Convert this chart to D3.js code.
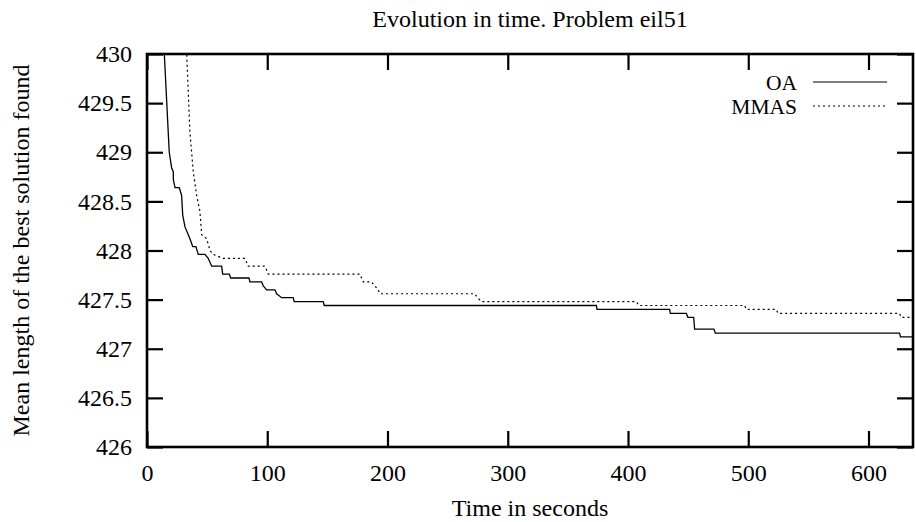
<!DOCTYPE html>
<html>
<head>
<meta charset="utf-8">
<script src="https://cdn.jsdelivr.net/npm/d3@7"></script>
<style>
  body { margin: 0; background: #fff; }
  svg { display: block; }
  text { font-family: "Liberation Serif", "Times New Roman", serif; fill: #000; }
</style>
</head>
<body>
<svg id="chart" width="916" height="522"></svg>
<script>
// ---- data ----
const xTicks = [0, 100, 200, 300, 400, 500, 600];
const yTicks = [426, 426.5, 427, 427.5, 428, 428.5, 429, 429.5, 430];
const seriesNames = ["OA", "MMAS"];

const oaTime = [12.5, 14.4, 18.5, 20.5, 21.9, 21.9, 23.3, 26.8, 28.8, 29.7, 31.6, 35.7, 38.0, 40.7, 42.6, 48.2, 50.9, 53.8, 62.1, 62.9, 68.4, 69.6, 84.8, 85.6, 95.3, 96.7, 99.5, 106.4, 107.8, 112.0, 121.6, 122.4, 146.5, 147.4, 373.7, 374.2, 434.6, 435.2, 448.5, 449.8, 454.6, 455.4, 471.4, 472.6, 625.8, 626.6, 637];
const oaValue = [430.4, 430.0, 429.0, 428.84, 428.80, 428.72, 428.64, 428.64, 428.56, 428.36, 428.24, 428.12, 428.04, 428.04, 427.96, 427.96, 427.92, 427.84, 427.84, 427.76, 427.76, 427.72, 427.72, 427.68, 427.68, 427.64, 427.60, 427.60, 427.56, 427.52, 427.52, 427.48, 427.48, 427.44, 427.44, 427.40, 427.40, 427.36, 427.36, 427.32, 427.32, 427.20, 427.20, 427.16, 427.16, 427.12, 427.12];

const mmasTime = [32.3, 33.0, 35.7, 38.5, 41.3, 44.0, 45.5, 49.6, 52.4, 55.1, 63.4, 81.4, 84.2, 98.1, 100.8, 177.0, 178.4, 179.8, 186.7, 189.5, 192.2, 193.6, 272.6, 274.8, 278.2, 406.9, 409.1, 497.0, 498.4, 523.3, 524.7, 625.8, 627.2, 637];
const mmasValue = [430.4, 430.0, 429.2, 428.8, 428.56, 428.4, 428.16, 428.12, 428.0, 427.96, 427.92, 427.92, 427.84, 427.84, 427.76, 427.76, 427.72, 427.68, 427.68, 427.64, 427.60, 427.56, 427.56, 427.52, 427.48, 427.48, 427.44, 427.44, 427.40, 427.40, 427.36, 427.36, 427.32, 427.32];

// ---- layout ----
const svg = d3.select("#chart");
const L = 147, R = 913, T = 54, B = 447;
const FS = "24px";
const x = d3.scaleLinear().domain([0, 637]).range([L, R]);
const y = d3.scaleLinear().domain([426, 430]).range([B, T]);

svg.append("defs").append("clipPath").attr("id", "clip")
  .append("rect").attr("x", L).attr("y", T).attr("width", R - L).attr("height", B - T);

// title
svg.append("text").attr("x", (L + R) / 2).attr("y", 27).attr("text-anchor", "middle")
  .style("font-size", FS).text("Evolution in time. Problem eil51");

// axes (ticks inward, mirrored)
const tickLen = 16;
const gx = svg.append("g").attr("transform", `translate(0,${B})`)
  .call(d3.axisBottom(x).tickValues(xTicks).tickSize(-tickLen).tickPadding(17).tickFormat(d3.format("d")));
const gxt = svg.append("g").attr("transform", `translate(0,${T})`)
  .call(d3.axisTop(x).tickValues(xTicks).tickSize(-tickLen).tickFormat(""));
const gy = svg.append("g").attr("transform", `translate(${L},0)`)
  .call(d3.axisLeft(y).tickValues(yTicks).tickSize(-tickLen).tickPadding(15).tickFormat(d => String(d)));
const gyr = svg.append("g").attr("transform", `translate(${R},0)`)
  .call(d3.axisRight(y).tickValues(yTicks).tickSize(-tickLen).tickFormat(""));

[gx, gxt, gy, gyr].forEach(g => {
  g.select(".domain").remove();
  g.selectAll(".tick line").attr("stroke", "#000").attr("stroke-width", 2.2);
  g.selectAll(".tick text").style("font-size", FS).style("font-family", "'Liberation Serif', serif").attr("fill", "#000");
});

// frame
svg.append("rect").attr("x", L).attr("y", T).attr("width", R - L).attr("height", B - T)
  .attr("fill", "none").attr("stroke", "#000").attr("stroke-width", 2.6);

// axis labels
svg.append("text").attr("x", (L + R) / 2).attr("y", 516).attr("text-anchor", "middle")
  .style("font-size", FS).text("Time in seconds");
svg.append("text").attr("transform", `translate(29,${(T + B) / 2}) rotate(-90)`)
  .attr("text-anchor", "middle").style("font-size", FS)
  .text("Mean length of the best solution found");

// lines
const line = d3.line().x(d => x(d[0])).y(d => y(d[1]));
const oa = oaTime.map((t, i) => [t, oaValue[i]]);
const mmas = mmasTime.map((t, i) => [t, mmasValue[i]]);
const plot = svg.append("g").attr("clip-path", "url(#clip)");
plot.append("path").datum(mmas).attr("d", line).attr("fill", "none")
  .attr("stroke", "#000").attr("stroke-width", 1.2).attr("stroke-dasharray", "2,3");
plot.append("path").datum(oa).attr("d", line).attr("fill", "none")
  .attr("stroke", "#000").attr("stroke-width", 1.3);

// legend
const legend = svg.append("g");
const legendY = [82, 106];
const dashes = [null, "2,3"];
seriesNames.forEach((name, i) => {
  legend.append("text").attr("x", 797).attr("y", legendY[i] + 7.5).attr("text-anchor", "end")
    .style("font-size", "21.5px").text(name);
  legend.append("line").attr("x1", 813).attr("x2", 887).attr("y1", legendY[i]).attr("y2", legendY[i])
    .attr("stroke", "#000").attr("stroke-width", 1.2).attr("stroke-dasharray", dashes[i]);
});
</script>
</body>
</html>
